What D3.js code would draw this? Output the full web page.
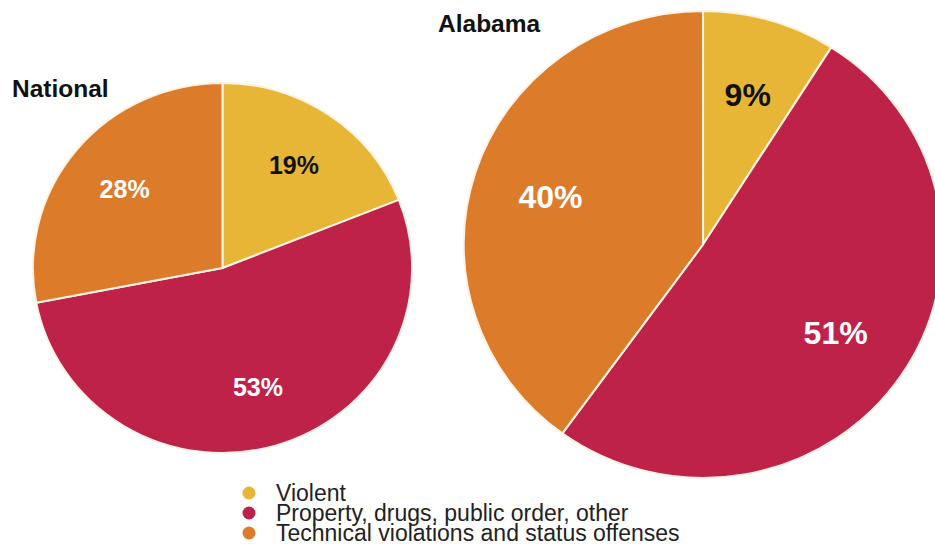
<!DOCTYPE html>
<html>
<head>
<meta charset="utf-8">
<script src="https://cdn.jsdelivr.net/npm/d3@7"></script>
<style>
  body { margin: 0; background: #fff; }
  svg { display: block; font-family: "Liberation Sans", Arial, Helvetica, sans-serif; }
</style>
</head>
<body>
<div id="chart"></div>
<script>
/* DATA */
const categories = ["Violent", "Property, drugs, public order, other", "Technical violations and status offenses"];
const nationalValues = [19, 53, 28];
const alabamaValues = [9, 51, 40];
const colors = ["#E8B637", "#BE2249", "#DC7B29"];
const labelColors = ["#111", "#fff", "#fff"];

const width = 935, height = 544;

const svg = d3.select("#chart").append("svg")
  .attr("width", width)
  .attr("height", height);

const color = d3.scaleOrdinal().domain(categories).range(colors);
const pie = d3.pie().sort(null).value(d => d.value);

// the source picture is slightly wider than tall, so pies get a small x stretch
const sx = 1.025;

function drawPie(values, title, cx, cy, r, fontSize, titleX, titleY) {
  const data = categories.map((c, i) => ({ cat: c, value: values[i], i: i }));
  const arcs = pie(data);
  const arc = d3.arc().innerRadius(0).outerRadius(r);
  const labelArc = d3.arc().innerRadius(r * 0.67).outerRadius(r * 0.67);

  const g = svg.append("g").attr("transform", `translate(${cx},${cy})`);

  g.append("g")
    .attr("transform", `scale(${sx},1)`)
    .selectAll("path")
    .data(arcs)
    .join("path")
    .attr("d", arc)
    .attr("fill", d => color(d.data.cat))
    .attr("stroke", "#fdf3e4")
    .attr("stroke-width", 2)
    .attr("stroke-linejoin", "round");

  g.selectAll("text.pct")
    .data(arcs)
    .join("text")
    .attr("class", "pct")
    .attr("x", d => labelArc.centroid(d)[0] * sx)
    .attr("y", d => labelArc.centroid(d)[1])
    .attr("dy", "0.36em")
    .attr("text-anchor", "middle")
    .attr("font-size", fontSize)
    .attr("font-weight", "bold")
    .attr("fill", d => labelColors[d.data.i])
    .text(d => d.data.value + "%");

  svg.append("text")
    .attr("x", titleX)
    .attr("y", titleY)
    .attr("font-size", 24.5)
    .attr("font-weight", "bold")
    .attr("fill", "#111")
    .text(title);
}

drawPie(nationalValues, "National", 222.5, 268, 185, 25, 12, 97);
drawPie(alabamaValues, "Alabama", 703, 244.5, 233.5, 32, 438, 32);

// legend
const legend = svg.append("g").attr("transform", "translate(249,493)");
const ly = d3.scalePoint().domain(categories).range([0, 40]);

legend.selectAll("circle")
  .data(categories)
  .join("circle")
  .attr("cx", 0)
  .attr("cy", d => ly(d))
  .attr("r", 6.5)
  .attr("fill", d => color(d));

legend.selectAll("text")
  .data(categories)
  .join("text")
  .attr("x", 27)
  .attr("y", d => ly(d) + 7.5)
  .attr("font-size", 23)
  .attr("fill", "#222")
  .text(d => d);
</script>
</body>
</html>
